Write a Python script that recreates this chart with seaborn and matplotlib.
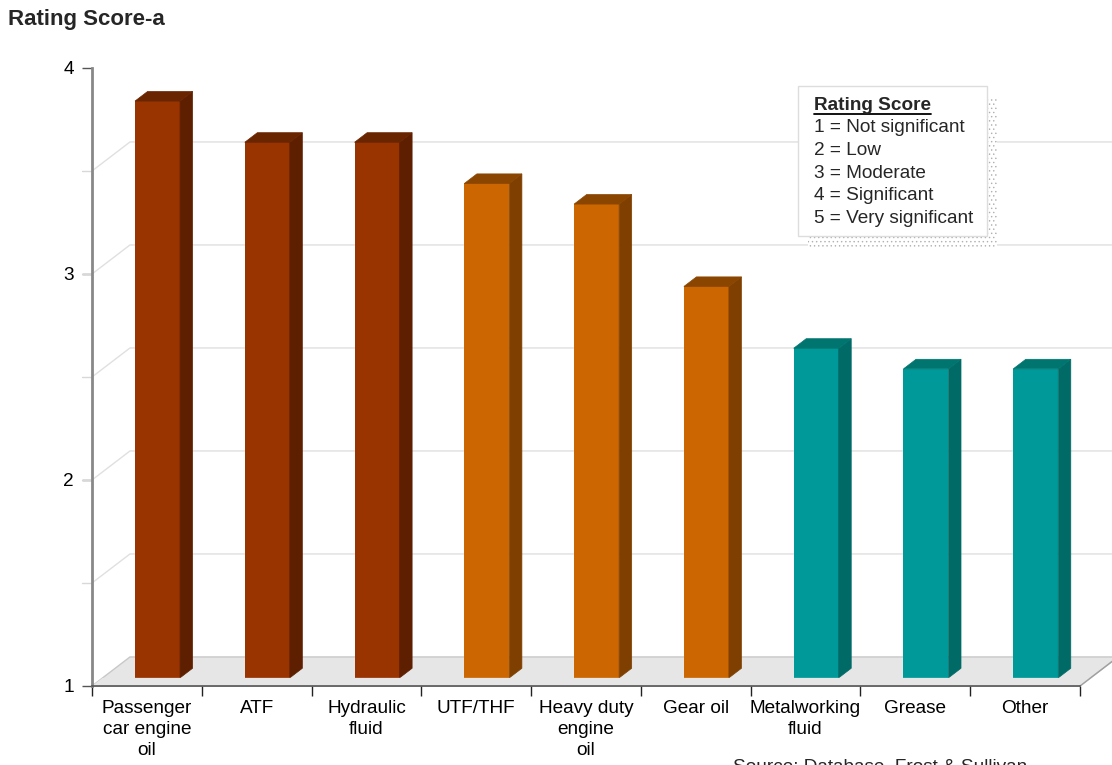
import seaborn as sns
import matplotlib.pyplot as plt
from matplotlib.patches import Polygon, Rectangle

# chart data
categories = ["Passenger\ncar engine\noil", "ATF", "Hydraulic\nfluid", "UTF/THF",
              "Heavy duty\nengine\noil", "Gear oil", "Metalworking\nfluid", "Grease", "Other"]
scores = [3.8, 3.6, 3.6, 3.4, 3.3, 2.9, 2.6, 2.5, 2.5]
front_colors = ["#993300"] * 3 + ["#CC6600"] * 3 + ["#009999"] * 3
side_colors = ["#5E1F00"] * 3 + ["#7F3F00"] * 3 + ["#006B66"] * 3
top_colors = ["#692400"] * 3 + ["#8A4600"] * 3 + ["#007570"] * 3
legend_title = "Rating Score"
legend_lines = ["1 = Not significant", "2 = Low", "3 = Moderate", "4 = Significant", "5 = Very significant"]

sns.set_style("white")
plt.rcParams['font.family'] = ['Liberation Sans', 'DejaVu Sans']
plt.rcParams['hatch.linewidth'] = 0.5

W, H = 1112, 765
fig = plt.figure(figsize=(W / 100, H / 100), dpi=100)
ax = fig.add_axes([92 / W, (H - 686) / H, 988 / W, 618 / H])

# fake 3d depth (data units) and bar placement in depth
DX, DY = 0.346, 0.141
F, BD = 0.28, 0.33
n = len(categories)
x_lo, x_hi = -0.5, n - 0.5

sns.barplot(x=categories, y=scores, hue=categories, palette=front_colors, legend=False,
            width=0.41, saturation=1, edgecolor="none", ax=ax, zorder=2)

bars = sorted(ax.patches, key=lambda p: p.get_x())
for i, p in enumerate(bars):
    p.set_x(p.get_x() + F * DX)
    p.set_y(F * DY)
    xl = p.get_x()
    xr = xl + p.get_width()
    yb = 1 + F * DY
    yt = p.get_y() + p.get_height()
    ax.add_patch(Polygon([(xr, yb), (xr + BD * DX, yb + BD * DY), (xr + BD * DX, yt + BD * DY), (xr, yt)],
                         closed=True, facecolor=side_colors[i], edgecolor=side_colors[i], lw=0.5, zorder=2))
    ax.add_patch(Polygon([(xl, yt), (xr, yt), (xr + BD * DX, yt + BD * DY), (xl + BD * DX, yt + BD * DY)],
                         closed=True, facecolor=top_colors[i], edgecolor=top_colors[i], lw=0.5, zorder=2))

# floor
ax.add_patch(Polygon([(x_lo, 1), (x_hi, 1), (x_hi + DX, 1 + DY), (x_lo + DX, 1 + DY)], closed=True,
                     facecolor="#E6E6E6", edgecolor="#C8C8C8", lw=1, zorder=0.2, clip_on=False))
ax.add_patch(Polygon([(x_lo, 1), (x_hi, 1), (x_hi + F * DX, 1 + F * DY), (x_lo + F * DX, 1 + F * DY)], closed=True,
                     facecolor="#E6E6E6", edgecolor="none", zorder=3, clip_on=False))
ax.plot([x_hi, x_hi + DX], [1, 1 + DY], color="#A0A0A0", lw=1, clip_on=False, zorder=4)

# gridlines on left and back wall
stub = 10 / 109.8
for v in [1.5, 2, 2.5, 3, 3.5]:
    ax.plot([x_lo, x_lo + DX, x_hi + DX], [v, v + DY, v + DY], color="#E0E0E0", lw=1, clip_on=False, zorder=0.3)
    ax.plot([x_lo - stub, x_lo], [v, v], color="#D8D8D8", lw=1, clip_on=False, zorder=3)

ax.set_xlim(x_lo, x_hi)
ax.set_ylim(1, 4)
ax.set_yticks([1, 2, 3, 4])
ax.set_xticks([x_lo + k for k in range(n + 1)])
ax.set_xticklabels([])
ax.set_xticks(range(n), minor=True)
ax.set_xticklabels(categories, minor=True)
ax.tick_params(axis="x", which="major", direction="out", length=7.5, width=1, color="#222222", bottom=True)
ax.tick_params(axis="x", which="minor", length=0, pad=10, labelsize=13.7, bottom=True)
ax.tick_params(axis="y", which="major", direction="out", length=7.2, width=1, color="#555555",
               pad=6, labelsize=13.7, left=True)
for t in ax.get_xticklabels(minor=True):
    t.set_linespacing(1.3)
    t.set_color("black")
for t in ax.get_yticklabels():
    t.set_color("black")

for s in ["top", "right"]:
    ax.spines[s].set_visible(False)
ax.spines["left"].set_color("#888888")
ax.spines["left"].set_linewidth(2)
ax.spines["bottom"].set_color("#555555")
ax.spines["bottom"].set_linewidth(1.2)
for s in ax.spines.values():
    s.set_zorder(5)
ax.set_xlabel("")
ax.set_ylabel("")

# title
fig.text(8 / W, 1 - 19 / H, "Rating Score-a", fontsize=16, fontweight="bold", va="center", ha="left")

# legend box with dotted shadow
fig.patches.append(Rectangle((808 / W, 1 - 248 / H), 189 / W, 150 / H, transform=fig.transFigure,
                             facecolor="white", edgecolor="#B0B0B0", hatch="....", lw=0, zorder=5))
fig.patches.append(Rectangle((798 / W, 1 - 236 / H), 189 / W, 150 / H, transform=fig.transFigure,
                             facecolor="white", edgecolor="#DDDDDD", lw=1, zorder=6))
tt = fig.text(814 / W, 1 - 105 / H, legend_title, fontsize=13.7, fontweight="bold", va="center", ha="left", zorder=7)
for k, line in enumerate(legend_lines):
    fig.text(814 / W, 1 - (128 + 22.6 * k) / H, line, fontsize=13.7, va="center", ha="left", zorder=7)
fig.canvas.draw()
bb = tt.get_window_extent().transformed(fig.transFigure.inverted())
fig.lines.append(plt.Line2D([bb.x0, bb.x1], [1 - 114 / H] * 2, transform=fig.transFigure,
                            color="black", lw=1.3, zorder=7))

# source note, cut off at the bottom edge as in the original
fig.text(733 / W, 1 - 771 / H, "Source: Database, Frost & Sullivan", fontsize=13.7, va="baseline", ha="left")

fig.savefig("out.png", dpi=100)
